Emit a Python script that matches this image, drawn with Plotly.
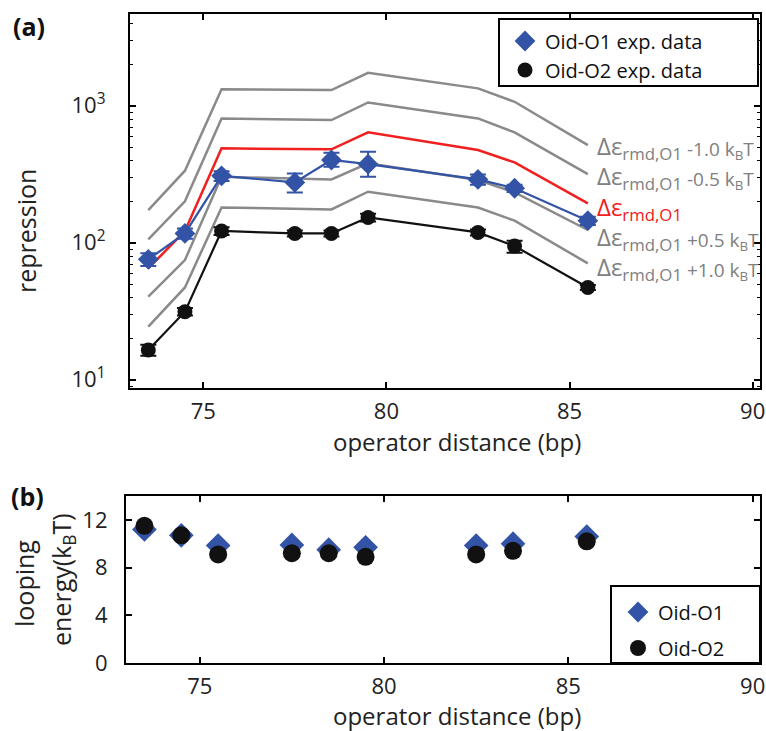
import plotly.graph_objects as go

# operator distances (bp)
dist = [73.5, 74.5, 75.5, 77.5, 78.5, 79.5, 82.5, 83.5, 85.5]

# repression, Oid-O1 experiments
rep_o1 = [75.7, 117, 308, 276, 402, 375, 290, 250, 145]
rep_o1_up = [8, 10, 25, 45, 52, 86, 25, 15, 10]
rep_o1_dn = [8, 10, 25, 43, 43, 72, 25, 15, 10]

# repression, Oid-O2 experiments
rep_o2 = [16.5, 31.4, 122, 117, 117, 153, 119, 94.6, 47.2]
rep_o2_up = [1.5, 2, 8, 6, 6, 10, 6, 9, 2]
rep_o2_dn = [1.5, 2, 8, 6, 6, 10, 6, 10, 2]

# theory curves for the O1 binding energy and shifted values
th_o1 = [65, 122, 489, 484, 481, 640, 475, 386, 194]
th_m10 = [173, 336, 1318, 1308, 1303, 1741, 1340, 1070, 516]
th_m05 = [106, 201, 809, 797, 787, 1057, 809, 640, 317]
th_p05 = [40.4, 74.8, 303, 295, 290, 380, 287, 233, 124]
th_p10 = [24.4, 47.2, 181, 178, 175, 236, 181, 145, 70.8]

# looping energies (kBT)
loop_o1 = [11.2, 10.7, 9.85, 9.9, 9.5, 9.7, 9.85, 10.0, 10.6]
loop_o2 = [11.5, 10.7, 9.1, 9.2, 9.2, 8.9, 9.1, 9.4, 10.2]

curve_labels = ["-1.0 k<sub>B</sub>T", "-0.5 k<sub>B</sub>T", "", "+0.5 k<sub>B</sub>T", "+1.0 k<sub>B</sub>T"]
curve_label_px = [147, 177, 208, 238, 268]

rep_ticks = [10, 100, 1000]
rep_ticktext = ["10<sup>1</sup>", "10<sup>2</sup>", "10<sup>3</sup>"]
rep_minor = [m * 10 ** e for e in (0, 1, 2, 3) for m in range(2, 10)]

W, H = 766, 731
FONT = "Open Sans"
BLUE = "#3353a6"
BLACK = "#111111"
GRAY = "#8a8a8a"
RED = "#f02020"

# top panel pixel frame
TOP_Y0, TOP_Y1 = 14, 388
LOG_RANGE = [0.94, 3.67]


def px(x):
    return x / W


def py(y):
    return 1 - y / H


def logy_at(ypix):
    frac = (TOP_Y1 - ypix) / (TOP_Y1 - TOP_Y0)
    return LOG_RANGE[0] + frac * (LOG_RANGE[1] - LOG_RANGE[0])


fig = go.Figure()

for ys in (th_m10, th_m05, th_p05, th_p10):
    fig.add_trace(go.Scatter(x=dist, y=ys, mode="lines", line=dict(color=GRAY, width=2.5),
                             showlegend=False, hoverinfo="skip", xaxis="x", yaxis="y"))
fig.add_trace(go.Scatter(x=dist, y=th_o1, mode="lines", line=dict(color=RED, width=2.5),
                         showlegend=False, xaxis="x", yaxis="y"))

# connecting lines of the experimental series
fig.add_trace(go.Scatter(x=dist, y=rep_o1, mode="lines", line=dict(color=BLUE, width=2.2),
                         showlegend=False, xaxis="x", yaxis="y"))
fig.add_trace(go.Scatter(x=dist, y=rep_o2, mode="lines", line=dict(color=BLACK, width=2.2),
                         showlegend=False, xaxis="x", yaxis="y"))

fig.add_trace(go.Scatter(
    x=dist, y=rep_o1, mode="markers", name="Oid-O1 exp. data",
    marker=dict(symbol="diamond", size=16, color=BLUE),
    error_y=dict(type="data", array=rep_o1_up, arrayminus=rep_o1_dn, color=BLUE, thickness=2, width=8),
    xaxis="x", yaxis="y", legend="legend"))
fig.add_trace(go.Scatter(
    x=dist, y=rep_o2, mode="markers", name="Oid-O2 exp. data",
    marker=dict(symbol="circle", size=15, color=BLACK),
    error_y=dict(type="data", array=rep_o2_up, arrayminus=rep_o2_dn, color=BLACK, thickness=2, width=8),
    xaxis="x", yaxis="y", legend="legend2"))

fig.add_trace(go.Scatter(
    x=dist, y=loop_o1, mode="markers", name="Oid-O1",
    marker=dict(symbol="diamond", size=19, color=BLUE),
    xaxis="x2", yaxis="y2", legend="legend3"))
fig.add_trace(go.Scatter(
    x=dist, y=loop_o2, mode="markers", name="Oid-O2",
    marker=dict(symbol="circle", size=18, color=BLACK),
    xaxis="x2", yaxis="y2", legend="legend4"))

axis_common = dict(showline=True, linecolor="black", linewidth=2.2, mirror="ticks",
                   ticks="inside", ticklen=6, tickwidth=1.5, tickcolor="black",
                   showgrid=False, zeroline=False, automargin=False,
                   tickfont=dict(family=FONT, size=22, color="#222222"))


def leg(x, y):
    return dict(x=px(x), y=py(y), xanchor="left", yanchor="middle",
                bgcolor="rgba(0,0,0,0)", borderwidth=0, itemwidth=30,
                font=dict(family=FONT, size=20, color=BLACK))


fig.update_layout(
    width=W, height=H, margin=dict(l=0, r=0, t=0, b=0, autoexpand=False),
    paper_bgcolor="white", plot_bgcolor="white",
    font=dict(family=FONT, color="#222222"),
    xaxis=dict(domain=[px(130), px(760)], range=[73, 90.2], tickvals=[75, 80, 85, 90],
               ticklabelstandoff=2, anchor="y", **axis_common),
    yaxis=dict(domain=[py(TOP_Y1), py(TOP_Y0)], type="log", range=LOG_RANGE,
               tickvals=rep_ticks, ticktext=rep_ticktext, ticklabelstandoff=18,
               minor=dict(ticks="inside", ticklen=3, tickwidth=1, tickcolor="black",
                          tickvals=rep_minor, showgrid=False),
               anchor="x", **axis_common),
    xaxis2=dict(domain=[px(126), px(760)], range=[73, 90.2], tickvals=[75, 80, 85, 90],
                ticklabelstandoff=2, anchor="y2", **axis_common),
    yaxis2=dict(domain=[py(663), py(496)], range=[0, 14], tickvals=[0, 4, 8, 12],
                ticklabelstandoff=12, anchor="x2", **axis_common),
    legend=leg(505, 41),
    legend2=leg(505, 70),
    legend3=leg(618, 612),
    legend4=leg(618, 648),
    shapes=[
        dict(type="rect", xref="paper", yref="paper", x0=px(499), x1=px(758), y0=py(86), y1=py(19),
             line=dict(color="black", width=2), fillcolor="white", layer="above"),
        dict(type="rect", xref="paper", yref="paper", x0=px(611), x1=px(760), y0=py(663), y1=py(586),
             line=dict(color="black", width=2), fillcolor="white", layer="above"),
    ],
)

ann = []
for txt, lp in zip(curve_labels, curve_label_px):
    col = RED if txt == "" else "#808080"
    ann.append(dict(x=85.7, y=logy_at(lp), xref="x", yref="y", xanchor="left", yanchor="middle",
                    text="Δε<sub>rmd,O1</sub>", showarrow=False,
                    font=dict(family=FONT, size=24, color=col)))
    if txt:
        ann.append(dict(x=88.15, y=logy_at(lp + 3), xref="x", yref="y", xanchor="left", yanchor="middle",
                        text=txt, showarrow=False,
                        font=dict(family=FONT, size=19, color=col)))

ann += [
    dict(x=px(11), y=py(26), xref="paper", yref="paper", xanchor="left", yanchor="middle",
         text="<b>(a)</b>", showarrow=False, font=dict(family=FONT, size=25, color=BLACK)),
    dict(x=px(9), y=py(496), xref="paper", yref="paper", xanchor="left", yanchor="middle",
         text="<b>(b)</b>", showarrow=False, font=dict(family=FONT, size=25, color=BLACK)),
    dict(x=px(26), y=py(231), xref="paper", yref="paper", xanchor="center", yanchor="middle",
         text="repression", textangle=-90, showarrow=False,
         font=dict(family=FONT, size=25, color="#222222")),
    dict(x=px(457), y=py(441), xref="paper", yref="paper", xanchor="center", yanchor="middle",
         text="operator distance (bp)", showarrow=False,
         font=dict(family=FONT, size=24, color="#222222")),
    dict(x=px(457), y=py(715), xref="paper", yref="paper", xanchor="center", yanchor="middle",
         text="operator distance (bp)", showarrow=False,
         font=dict(family=FONT, size=24, color="#222222")),
    dict(x=px(24), y=py(583), xref="paper", yref="paper", xanchor="center", yanchor="middle",
         text="looping", textangle=-90, showarrow=False,
         font=dict(family=FONT, size=25, color="#222222")),
    dict(x=px(62), y=py(580), xref="paper", yref="paper", xanchor="center", yanchor="middle",
         text="energy(k<sub>B</sub>T)", textangle=-90, showarrow=False,
         font=dict(family=FONT, size=25, color="#222222")),
]
fig.update_layout(annotations=ann)

fig.write_html("out.html")
